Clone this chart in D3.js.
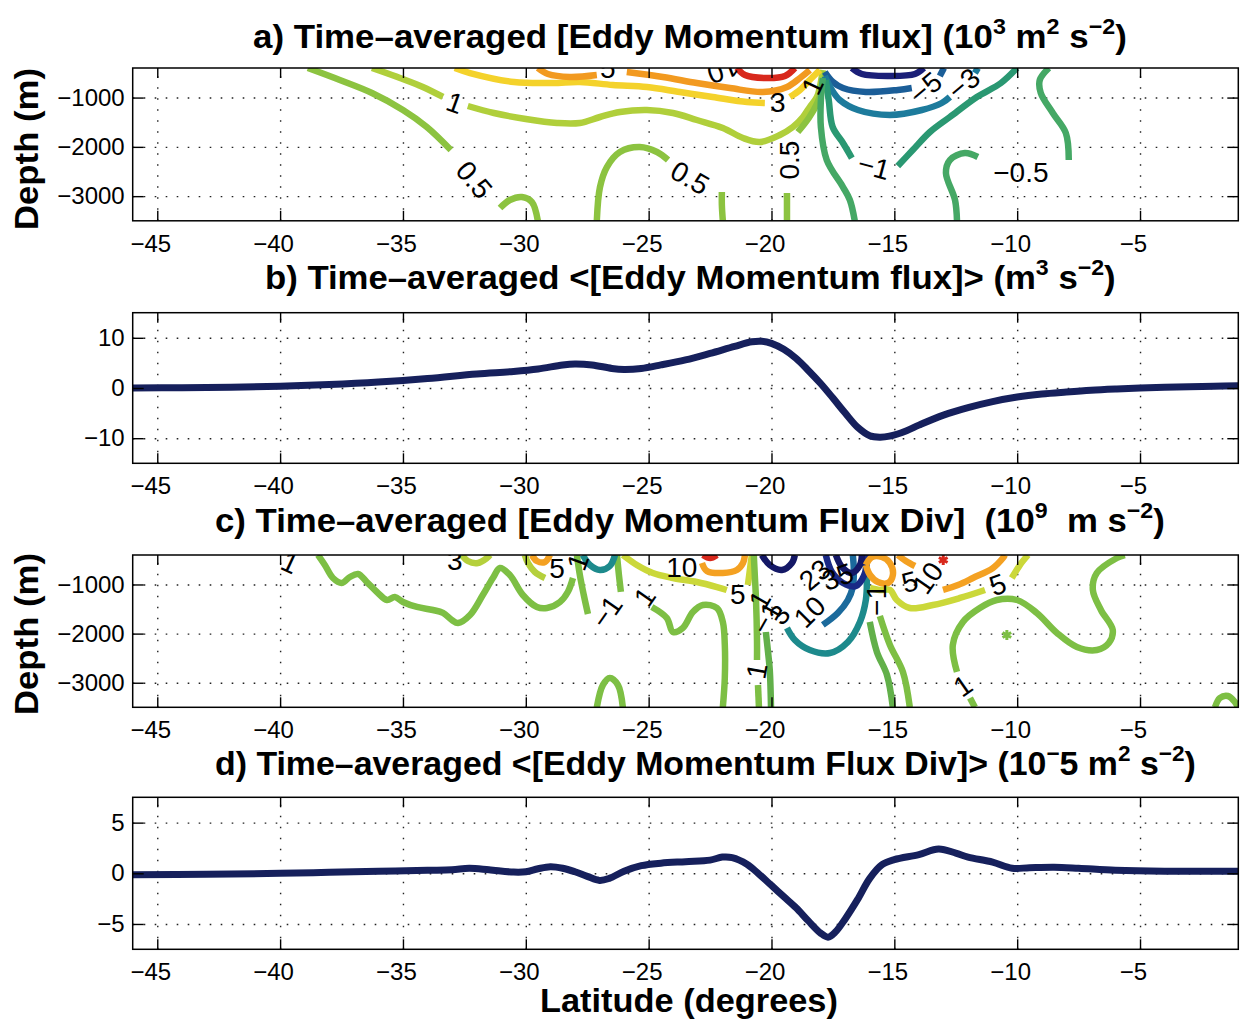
<!DOCTYPE html>
<html><head><meta charset="utf-8">
<script src="https://cdn.jsdelivr.net/npm/d3@7"></script>
<style>body{margin:0;background:#fff}svg{display:block}</style>
</head><body>
<svg id="chart" width="1241" height="1025"></svg>
<script>
// ---------------- DATA ----------------
const xTicks = [-45, -40, -35, -30, -25, -20, -15, -10, -5];
const depthTicks = [-3000, -2000, -1000];
const bTicks = [-10, 0, 10];
const dTicks = [-5, 0, 5];

// panel b : vertically integrated eddy momentum flux
const latB = [-46,-44,-42,-40,-38,-36,-34,-32,-30.5,-29.5,-28.5,-28,-27.3,-26.5,-26,-25.3,-24.5,-23.5,-22.5,-21.5,-20.8,-20.4,-20,-19.5,-19,-18.5,-18,-17.5,-17,-16.5,-16,-15.6,-15.2,-14.5,-14,-13,-12,-11,-10,-9,-8,-7,-6,-5,-4,-3,-2,-1];
const valB = [0,0.05,0.15,0.35,0.7,1.2,1.9,2.8,3.3,3.8,4.6,4.8,4.6,3.9,3.7,3.9,4.6,5.6,6.9,8.3,9.2,9.3,8.9,7.7,5.9,3.5,0.9,-2.0,-5.0,-7.8,-9.5,-9.8,-9.6,-8.5,-7.4,-5.4,-3.9,-2.7,-1.8,-1.2,-0.8,-0.45,-0.2,0,0.15,0.25,0.35,0.45];

// panel d : vertically integrated eddy momentum flux divergence
const latD = [-46,-43,-40,-38,-36,-34,-33,-32.3,-31.5,-30.5,-30,-29.5,-29,-28.5,-28,-27.5,-27,-26.6,-26,-25.3,-24.5,-23.5,-22.5,-22,-21.6,-21,-20.5,-20,-19.5,-19,-18.5,-18,-17.7,-17.4,-17,-16.5,-16,-15.5,-15,-14,-13.2,-12.5,-12,-11,-10.2,-9.5,-8.5,-7.5,-6,-4,-2,-1];
const valD = [-0.15,-0.1,0,0.1,0.2,0.3,0.35,0.5,0.35,0.12,0.15,0.45,0.65,0.5,0.15,-0.3,-0.7,-0.5,0.2,0.75,1.0,1.15,1.3,1.6,1.55,0.9,-0.1,-1.2,-2.3,-3.4,-4.7,-5.9,-6.3,-5.8,-4.5,-2.6,-0.5,0.85,1.35,1.85,2.4,2.0,1.6,1.1,0.5,0.55,0.6,0.5,0.3,0.2,0.2,0.2];

// panel a : contour levels and traced contour pieces [lat, depth]
const levelsA = [-10, -5, -3, -1, -0.5, 0.5, 1, 3, 5, 10];
const contoursA = [
  {level: 0.5, pts: [[-38.87,-400],[-37.57,-643],[-36.26,-907],[-35.00,-1252],[-34.03,-1597],[-33.05,-2064]]},
  {level: 0.5, pts: [[-31.05,-3240],[-30.65,-3078],[-30.16,-3017],[-29.75,-3119],[-29.51,-3500]]},
  {level: 1, pts: [[-36.26,-400],[-35.12,-603],[-34.19,-785],[-33.37,-988]]},
  {level: 1, pts: [[-32.36,-1171],[-31.30,-1313],[-30.00,-1435],[-28.73,-1516],[-27.80,-1516],[-26.98,-1394],[-26.17,-1293],[-25.07,-1252],[-24.01,-1313],[-23.04,-1455],[-21.98,-1617],[-21.16,-1820],[-20.47,-1901],[-19.66,-1759],[-19.13,-1597],[-18.72,-1394],[-18.44,-1191],[-18.15,-988],[-18.03,-785],[-17.91,-441]]},
  {level: 0.5, pts: [[-19.37,-3500],[-19.37,-2936]]},
  {level: 0.5, pts: [[-18.93,-1699],[-18.48,-1414],[-18.15,-1130],[-17.95,-846],[-17.79,-481]]},
  {level: 0.5, pts: [[-27.11,-3500],[-26.98,-2815],[-26.70,-2409],[-26.17,-2104],[-25.36,-2003],[-24.66,-2104],[-24.21,-2267]]},
  {level: 0.5, pts: [[-22.02,-2916],[-22.02,-3180],[-21.98,-3500]]},
  {level: 3, pts: [[-32.89,-400],[-32.27,-502],[-30.48,-684],[-28.90,-704],[-27.80,-684],[-26.46,-745],[-25.07,-785],[-23.73,-887],[-22.39,-988],[-21.00,-1090],[-20.27,-1110]]},
  {level: 3, pts: [[-19.25,-988],[-18.84,-846],[-18.56,-704],[-18.32,-582],[-18.03,-441]]},
  {level: 5, pts: [[-29.51,-400],[-29.10,-522],[-28.21,-582],[-27.11,-542]]},
  {level: 5, pts: [[-25.89,-481],[-24.42,-582],[-23.04,-704],[-21.69,-806],[-20.35,-887],[-19.37,-785],[-18.84,-603],[-18.44,-441]]},
  {level: 10, pts: [[-21.41,-400],[-21.08,-542],[-20.27,-603],[-19.45,-562],[-19.05,-400]]},
  {level: -10, pts: [[-16.73,-400],[-16.32,-522],[-15.18,-562],[-14.16,-522],[-13.80,-400]]},
  {level: -5, pts: [[-17.83,-481],[-17.50,-684],[-17.09,-806],[-16.16,-887],[-14.86,-846],[-14.29,-806]]},
  {level: -5, pts: [[-13.15,-562],[-12.98,-400]]},
  {level: -3, pts: [[-17.83,-562],[-17.54,-846],[-17.22,-1049],[-16.48,-1252],[-15.18,-1353],[-13.88,-1252],[-13.07,-1110],[-12.74,-988]]},
  {level: -3, pts: [[-11.72,-501],[-11.60,-400]]},
  {level: -1, pts: [[-17.79,-643],[-17.67,-1049],[-17.51,-1597],[-17.09,-1922],[-16.73,-2226]]},
  {level: -1, pts: [[-14.86,-2388],[-14.25,-2064],[-13.55,-1698],[-12.74,-1394],[-11.64,-988],[-10.66,-704],[-10.01,-400]]},
  {level: -0.5, pts: [[-17.91,-603],[-17.99,-1049],[-17.99,-1597],[-17.75,-2267],[-17.09,-2815],[-16.81,-3078],[-16.61,-3500]]},
  {level: -0.5, pts: [[-12.45,-3500],[-12.53,-3078],[-12.90,-2530],[-12.74,-2267],[-12.13,-2125],[-11.60,-2206]]},
  {level: -0.5, pts: [[-7.90,-2267],[-8.02,-1719],[-8.55,-1313],[-9.04,-907],[-9.08,-643],[-8.71,-400]]}
];
const labelsA = [
  {text: "0.5", lat: -32.11, depth: -2672, rot: 50},
  {text: "1", lat: -32.89, depth: -1110, rot: 20},
  {text: "0.5", lat: -23.32, depth: -2632, rot: 30},
  {text: "0.5", lat: -19.25, depth: -2267, rot: -90},
  {text: "3", lat: -19.74, depth: -1110, rot: 0},
  {text: "5", lat: -26.66, depth: -400, rot: 0},
  {text: "10", lat: -21.98, depth: -441, rot: 160},
  {text: "1", lat: -18.32, depth: -765, rot: -65},
  {text: "\u22121", lat: -15.83, depth: -2409, rot: 15},
  {text: "\u22125", lat: -13.72, depth: -806, rot: -40},
  {text: "\u22123", lat: -12.17, depth: -724, rot: -40},
  {text: "\u22120.5", lat: -9.85, depth: -2510, rot: 0}
];

// panel c : contour levels and traced contour pieces [lat, depth]
const levelsC = [-50, -35, -10, -5, -1, 1, 3, 5, 10, 50];
const contoursC = [
  {level: 1, pts: [[-38.46,-400],[-38.18,-604],[-37.85,-868],[-37.49,-970],[-37.16,-848],[-36.83,-787],[-36.47,-950],[-36.06,-1153],[-35.65,-1316],[-35.33,-1255],[-35.00,-1356],[-34.43,-1458],[-33.78,-1519],[-33.37,-1580],[-33.01,-1722],[-32.76,-1784],[-32.27,-1621],[-31.75,-1214],[-31.34,-868],[-31.05,-665],[-30.65,-807],[-30.12,-1214],[-29.55,-1458],[-29.14,-1479],[-28.61,-1356],[-28.29,-1153],[-28.08,-868]]},
  {level: 1, pts: [[-27.92,-400],[-27.80,-807],[-27.64,-1214],[-27.47,-1601]]},
  {level: 1, pts: [[-26.29,-400],[-26.21,-807],[-26.13,-1153]]},
  {level: 1, pts: [[-24.87,-1458],[-24.26,-1682],[-24.01,-1967],[-23.61,-1885],[-23.20,-1560],[-22.79,-1418],[-22.22,-1479],[-21.98,-1763],[-21.90,-2231],[-21.90,-2903],[-21.98,-3500]]},
  {level: 1, pts: [[-27.11,-3500],[-26.86,-3046],[-26.58,-2903],[-26.25,-3046],[-26.05,-3500]]},
  {level: -5, pts: [[-27.68,-400],[-27.39,-604],[-26.98,-706],[-26.58,-624],[-26.37,-400]]},
  {level: 3, pts: [[-32.60,-400],[-32.36,-522],[-31.95,-563],[-31.58,-461],[-31.46,-400]]},
  {level: 3, pts: [[-30.04,-400],[-29.91,-563],[-29.63,-747],[-29.22,-868]]},
  {level: 10, pts: [[-29.75,-400],[-29.55,-522],[-29.22,-543],[-29.02,-400]]},
  {level: 50, pts: [[-22.79,-400],[-22.50,-461],[-22.22,-400]]},
  {level: 10, pts: [[-22.83,-563],[-22.63,-726],[-21.98,-767],[-21.41,-706],[-21.16,-563],[-21.08,-400]]},
  {level: 5, pts: [[-26.05,-400],[-25.48,-604],[-24.83,-767],[-24.01,-868],[-23.04,-950],[-22.22,-1052],[-21.82,-1112]]},
  {level: 5, pts: [[-20.96,-1011],[-20.88,-706],[-20.80,-400]]},
  {level: 1, pts: [[-20.72,-400],[-20.68,-807],[-20.63,-1316],[-20.59,-2129],[-20.59,-2536]]},
  {level: 1, pts: [[-20.55,-3046],[-20.51,-3500]]},
  {level: -1, pts: [[-20.23,-1967],[-20.15,-2333],[-20.07,-2740],[-20.02,-3500]]},
  {level: -50, pts: [[-20.39,-400],[-20.07,-604],[-19.58,-706],[-19.17,-563],[-19.05,-400]]},
  {level: -5, pts: [[-19.37,-1885],[-19.05,-2129],[-18.44,-2333],[-17.62,-2394],[-16.89,-2170],[-16.40,-1763],[-16.16,-1316],[-16.12,-909],[-16.20,-400]]},
  {level: -10, pts: [[-17.91,-1824],[-17.30,-1580],[-16.89,-1316],[-16.69,-1052],[-16.65,-706],[-16.69,-400]]},
  {level: -35, pts: [[-17.79,-400],[-17.54,-747],[-17.09,-970],[-16.56,-1032],[-16.24,-827],[-16.12,-543],[-16.12,-400]]},
  {level: -50, pts: [[-17.38,-400],[-17.13,-645],[-16.73,-767],[-16.40,-604],[-16.32,-400]]},
  {level: 10, pts: [[-16.16,-604],[-15.99,-807],[-15.67,-950],[-15.26,-970],[-15.06,-807],[-15.18,-563],[-15.51,-441],[-15.91,-441],[-16.16,-604]]},
  {level: 5, pts: [[-9.56,-400],[-9.89,-604],[-10.22,-868]]},
  {level: 5, pts: [[-11.31,-1112],[-12.33,-1275],[-13.43,-1418],[-14.37,-1479],[-14.90,-1316],[-15.18,-1112],[-15.59,-1112],[-15.99,-1072]]},
  {level: 10, pts: [[-14.86,-400],[-14.53,-522],[-14.16,-624]]},
  {level: 10, pts: [[-13.02,-1112],[-12.41,-1011],[-11.80,-868],[-10.99,-665],[-10.58,-461],[-10.50,-400]]},
  {level: -1, pts: [[-16.00,-1763],[-15.71,-2373],[-15.30,-2842],[-15.06,-3500]]},
  {level: 1, pts: [[-15.59,-1641],[-15.18,-2231],[-14.65,-2781],[-14.37,-3500]]},
  {level: 1, pts: [[-11.72,-3500],[-11.92,-3311]]},
  {level: 1, pts: [[-12.45,-2781],[-12.62,-2231],[-12.21,-1763],[-11.52,-1479],[-10.83,-1316],[-10.01,-1316],[-9.20,-1580],[-8.38,-1987],[-7.57,-2272],[-6.76,-2333],[-6.27,-2191],[-6.11,-1926],[-6.59,-1519],[-6.92,-1112],[-6.76,-767],[-5.94,-461],[-5.62,-400]]},
  {level: 1, pts: [[-1.95,-3500],[-1.75,-3311],[-1.42,-3270],[-1.14,-3393],[-1.02,-3500]]}
];
const labelsC = [
  {text: "1", lat: -39.60, depth: -563, rot: 25},
  {text: "3", lat: -32.89, depth: -502, rot: 0},
  {text: "5", lat: -28.73, depth: -665, rot: 0},
  {text: "1", lat: -27.88, depth: -543, rot: -70},
  {text: "\u22121", lat: -26.70, depth: -1560, rot: -55},
  {text: "1", lat: -25.15, depth: -1255, rot: -55},
  {text: "10", lat: -23.65, depth: -645, rot: 0},
  {text: "5", lat: -21.37, depth: -1194, rot: 0},
  {text: "1", lat: -20.59, depth: -2760, rot: -80},
  {text: "1", lat: -20.47, depth: -1316, rot: -60},
  {text: "\u22121", lat: -20.19, depth: -1682, rot: -60},
  {text: "3", lat: -19.66, depth: -1621, rot: -50},
  {text: "10", lat: -18.44, depth: -1560, rot: -45},
  {text: "23", lat: -18.23, depth: -807, rot: -40},
  {text: "35", lat: -17.30, depth: -848, rot: -20},
  {text: "\u22121", lat: -15.71, depth: -1316, rot: -90},
  {text: "5", lat: -14.37, depth: -950, rot: -15},
  {text: "10", lat: -13.63, depth: -868, rot: -55},
  {text: "5", lat: -10.79, depth: -1011, rot: -20},
  {text: "1", lat: -12.21, depth: -3066, rot: -35}
];
const markersC = [
  {lat: -13.01, depth: -502, level: 50},
  {lat: -10.42, depth: -2028, level: 1}
];

// ---------------- STYLE ----------------
const FONT = "'Liberation Sans', Arial, Helvetica, sans-serif";
const paletteA = ["#1b1f78","#1b5e98","#1d7b9c","#2a9872","#45a865","#8cc340","#b0cf3b","#f4d22b","#f29a20","#d8281c"];
const paletteC = ["#141866","#1a2a86","#1b6a9c","#1d8a8c","#62b04a","#7dbf44","#b5d03c","#cbd83a","#f4a122","#d8281c"];
const colorA = d3.scaleOrdinal().domain(levelsA).range(paletteA);
const colorC = d3.scaleOrdinal().domain(levelsC).range(paletteC);
const NAVY = "#16205c";

// ---------------- SCALES ----------------
const svg = d3.select('#chart');
svg.append('rect').attr('width', 1241).attr('height', 1025).attr('fill', '#fff');
const x = d3.scaleLinear().domain([-46, -1]).range([132.7, 1238.3]);
const yA = d3.scaleLinear().domain([-3500, -400]).range([220.8, 68]);
const yB = d3.scaleLinear().domain([-15, 15]).range([463.3, 312.7]);
const yC = d3.scaleLinear().domain([-3500, -400]).range([707.3, 555]);
const yD = d3.scaleLinear().domain([-7.5, 7.5]).range([949.3, 797.3]);
const fmt = d => d < 0 ? '\u2212' + Math.abs(d) : String(d);

function panel(id, y, yTicks, drawContent) {
  const [bot, top] = y.range();
  const [L, R] = x.range();
  const g = svg.append('g');
  svg.append('clipPath').attr('id', 'clip' + id).append('rect')
    .attr('x', L).attr('y', top).attr('width', R - L).attr('height', bot - top);
  const grid = g.append('g');
  grid.append('g').attr('transform', `translate(0,${bot})`)
    .call(d3.axisBottom(x).tickValues(xTicks).tickSize(-(bot - top)).tickSizeOuter(0).tickFormat(''));
  grid.append('g').attr('transform', `translate(${L},0)`)
    .call(d3.axisLeft(y).tickValues(yTicks).tickSize(-(R - L)).tickSizeOuter(0).tickFormat(''));
  grid.selectAll('.domain').remove();
  grid.selectAll('line').attr('stroke', '#222').attr('stroke-width', 1.4).attr('stroke-dasharray', '1.6,9.4');
  const content = g.append('g').attr('clip-path', `url(#clip${id})`);
  drawContent(content, y);
  g.append('rect').attr('x', L).attr('y', top).attr('width', R - L).attr('height', bot - top)
    .attr('fill', 'none').attr('stroke', '#000').attr('stroke-width', 1.5);
  const ax = g.append('g');
  const bx = ax.append('g').attr('transform', `translate(0,${bot})`)
    .call(d3.axisBottom(x).tickValues(xTicks).tickSize(-10).tickSizeOuter(0).tickPadding(14).tickFormat(fmt));
  bx.selectAll('text').attr('dx', d => d < 0 ? -7 : 0);
  ax.append('g').attr('transform', `translate(0,${top})`)
    .call(d3.axisTop(x).tickValues(xTicks).tickSize(-10).tickSizeOuter(0).tickFormat(''));
  ax.append('g').attr('transform', `translate(${L},0)`)
    .call(d3.axisLeft(y).tickValues(yTicks).tickSize(-11).tickSizeOuter(0).tickPadding(8).tickFormat(fmt));
  ax.append('g').attr('transform', `translate(${R},0)`)
    .call(d3.axisRight(y).tickValues(yTicks).tickSize(-11).tickSizeOuter(0).tickFormat(''));
  ax.selectAll('.domain').remove();
  ax.selectAll('.tick line').attr('stroke', '#000').attr('stroke-width', 1.4);
  ax.selectAll('text').attr('fill', '#000').attr('font-family', FONT).attr('font-size', 24);
}

function contourDrawer(contours, labels, color, markers) {
  return (g, y) => {
    const line = d3.line().x(p => x(p[0])).y(p => y(p[1])).curve(d3.curveCatmullRom.alpha(0.5));
    g.selectAll('path.ct').data(contours).join('path').attr('class', 'ct')
      .attr('d', c => line(c.pts)).attr('fill', 'none')
      .attr('stroke', c => color(c.level)).attr('stroke-width', 6.5)
      .attr('stroke-linecap', 'butt').attr('stroke-linejoin', 'round');
    if (markers) {
      g.selectAll('path.mk').data(markers).join('path').attr('class', 'mk')
        .attr('d', d3.symbol().type(d3.symbolAsterisk || d3.symbolCross).size(70))
        .attr('transform', m => `translate(${x(m.lat)},${y(m.depth)})`)
        .attr('fill', 'none').attr('stroke', m => color(m.level)).attr('stroke-width', 3);
    }
    g.selectAll('text.cl').data(labels).join('text').attr('class', 'cl')
      .attr('transform', l => `translate(${x(l.lat)},${y(l.depth)}) rotate(${l.rot})`)
      .attr('text-anchor', 'middle').attr('dominant-baseline', 'central')
      .attr('font-family', FONT).attr('font-size', 28).attr('fill', '#000')
      .text(l => l.text);
  };
}

function lineDrawer(lats, vals) {
  return (g, y) => {
    const pts = d3.zip(lats, vals);
    const line = d3.line().x(p => x(p[0])).y(p => y(p[1])).curve(d3.curveCatmullRom.alpha(0.5));
    g.append('path').datum(pts).attr('d', line).attr('fill', 'none')
      .attr('stroke', NAVY).attr('stroke-width', 7).attr('stroke-linecap', 'round').attr('stroke-linejoin', 'round');
  };
}

panel('a', yA, depthTicks, contourDrawer(contoursA, labelsA, colorA));
panel('b', yB, bTicks, lineDrawer(latB, valB));
panel('c', yC, depthTicks, contourDrawer(contoursC, labelsC, colorC, markersC));
panel('d', yD, dTicks, lineDrawer(latD, valD));

// ---------------- TEXT ----------------
function title(parts, x0, x1, base) {
  const g = svg.append('g');
  const t = g.append('text').attr('font-family', FONT).attr('font-weight', 'bold')
    .attr('font-size', 33).attr('fill', '#000').style('white-space', 'pre');
  let shifted = false;
  parts.forEach(p => {
    const ts = t.append('tspan').text(p[0]);
    if (p[1]) { ts.attr('font-size', 22); if (!shifted) { ts.attr('dy', -14); shifted = true; } }
    else if (shifted) { ts.attr('dy', 14); shifted = false; }
  });
  const bb = t.node().getBBox();
  const sx = (x1 - x0) / bb.width;
  g.attr('transform', `translate(${x0 - bb.x * sx},${base}) scale(${sx},1)`);
}
title([["a) Time\u2013averaged [Eddy Momentum flux] (10"],["3",1],[" m"],["2",1],[" s"],["\u22122",1],[")"]], 253, 1127, 48);
title([["b) Time\u2013averaged <[Eddy Momentum flux]> (m"],["3",1],[" s"],["\u22122",1],[")"]], 265, 1116, 289);
title([["c) Time\u2013averaged [Eddy Momentum Flux Div]  (10"],["9",1],["  m s"],["\u22122",1],[")"]], 215, 1165, 532);
title([["d) Time\u2013averaged <[Eddy Momentum Flux Div]> (10"],["\u2212",1],["5 m"],["2",1],[" s"],["\u22122",1],[")"]], 215, 1196, 775);
title([["Latitude (degrees)"]], 540, 838, 1012);

function ylabel(y0, y1, xBase) {
  const g = svg.append('g');
  const t = g.append('text').attr('font-family', FONT).attr('font-weight', 'bold')
    .attr('font-size', 33).attr('fill', '#000').text('Depth (m)');
  const bb = t.node().getBBox();
  const s = (y1 - y0) / bb.width;
  g.attr('transform', `translate(${xBase},${y1}) rotate(-90) scale(${s},1) translate(${-bb.x},0)`);
}
ylabel(68, 230, 38);
ylabel(553, 715, 38);
</script>
</body></html>
